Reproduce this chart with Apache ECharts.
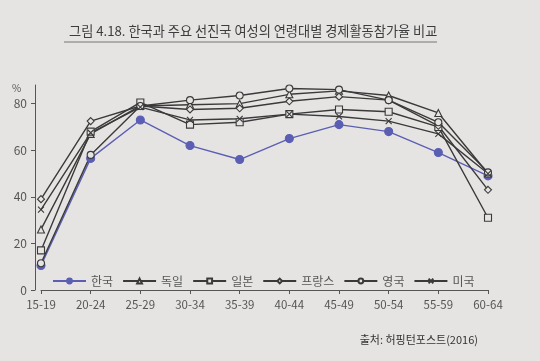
<!DOCTYPE html>
<html><head><meta charset="utf-8">
<script src="https://cdn.jsdelivr.net/npm/echarts@6/dist/echarts.min.js"></script>
<style>html,body{margin:0;padding:0;background:#e6e4e3}#c{width:540px;height:361px}</style>
</head><body><div id="c"></div>
<script>
const categories = ['15-19','20-24','25-29','30-34','35-39','40-44','45-49','50-54','55-59','60-64'];
const korea   = [10.5, 56.5, 73, 62, 56, 65, 71, 68, 59, 49];
const germany = [26, 67, 79, 79.5, 80, 84, 85.5, 83.5, 76, 50];
const japan   = [17, 68, 80.5, 71, 72, 75.5, 77.5, 76.5, 70, 31];
const france  = [39, 72.5, 79, 77.5, 78, 81, 83, 81.5, 70.5, 43];
const uk      = [11.5, 58, 79, 81.5, 83.5, 86.5, 86, 81.5, 72, 50.5];
const usa     = [34.5, 67.5, 78.5, 73, 73.5, 75.5, 74.5, 72.5, 67, 50];
const yTicks  = [0, 20, 40, 60, 80];
const names   = ['한국','독일','일본','프랑스','영국','미국'];

const bg = '#e6e4e3', dark = '#3a3a3a', blue = '#5b5fb3';
const font = '"Noto Sans CJK KR", "Noto Sans", sans-serif';
function s(name, data, symbol, size, color, fill) {
  return {
    name, type: 'line', data, symbol, symbolSize: size,
    lineStyle: { color, width: 1.4 },
    itemStyle: { color: fill, borderColor: color, borderWidth: 1.1 },
    emphasis: { disabled: true }, animation: false
  };
}
const chart = echarts.init(document.getElementById('c'));
chart.setOption({
  backgroundColor: bg,
  textStyle: { fontFamily: font },
  title: {
    text: '그림 4.18. 한국과 주요 선진국 여성의 연령대별 경제활동참가율 비교',
    left: 64, top: 19,
    textStyle: { fontSize: 13.2, fontWeight: 'normal', color: '#3c3c3c', fontFamily: font }
  },
  graphic: [
    { type: 'line', shape: { x1: 64, y1: 42, x2: 437, y2: 42 }, style: { stroke: '#777', lineWidth: 1 } },
    { type: 'text', left: 12, top: 83, style: { text: '%', fontSize: 10, fill: '#555', fontFamily: font } },
    { type: 'text', right: 62, top: 334, style: { text: '출처: 허핑턴포스트(2016)', fontSize: 11, fill: '#333', fontFamily: font } }
  ],
  legend: {
    data: names, left: 47, top: 270, itemWidth: 33, itemHeight: 6, itemGap: 9,
    textStyle: { fontSize: 12, color: '#555', fontFamily: font }
  },
  grid: { left: 41, right: 52, top: 85, bottom: 71 },
  xAxis: {
    type: 'category', data: categories, boundaryGap: false,
    axisLine: { lineStyle: { color: '#555', width: 1 } },
    axisTick: { show: true, length: 4, lineStyle: { color: '#555' } },
    axisLabel: { fontSize: 11.5, color: '#555', margin: 9 }
  },
  yAxis: {
    type: 'value', min: 0, max: 88, interval: 20, offset: 6,
    splitLine: { show: false },
    axisLine: { show: true, lineStyle: { color: '#555', width: 1 } },
    axisTick: { show: true, length: 4, customValues: yTicks, lineStyle: { color: '#555' } },
    axisLabel: { fontSize: 12, color: '#555', customValues: yTicks, margin: 8 }
  },
  series: [
    s('한국', korea, 'circle', 8, blue, blue),
    s('독일', germany, 'triangle', 7, dark, bg),
    s('일본', japan, 'rect', 7, dark, bg),
    s('프랑스', france, 'diamond', 7, dark, bg),
    s('영국', uk, 'circle', 7, dark, bg),
    s('미국', usa, 'path://M0,0L10,10M10,0L0,10', 6, dark, dark)
  ]
});
</script></body></html>
